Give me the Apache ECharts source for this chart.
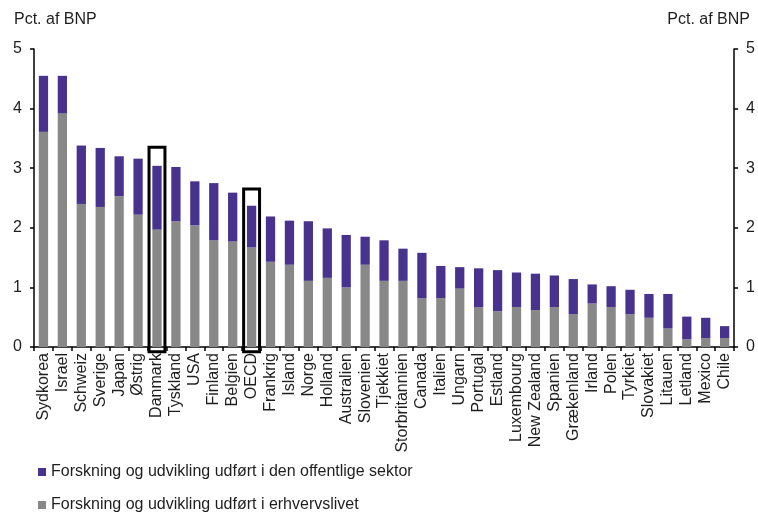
<!DOCTYPE html>
<html>
<head>
<meta charset="utf-8">
<script src="https://cdn.jsdelivr.net/npm/echarts@6/dist/echarts.min.js"></script>
<style>
  html, body { margin: 0; padding: 0; background: #fff; }
  #chart { width: 758px; height: 514px; }
</style>
</head>
<body>
<div id="chart"></div>
<script>
// R&D spending as share of GDP, split by performing sector
const countries = ['Sydkorea', 'Israel', 'Schweiz', 'Sverige', 'Japan', 'Østrig', 'Danmark', 'Tyskland', 'USA', 'Finland', 'Belgien', 'OECD', 'Frankrig', 'Island', 'Norge', 'Holland', 'Australien', 'Slovenien', 'Tjekkiet', 'Storbritannien', 'Canada', 'Italien', 'Ungarn', 'Portugal', 'Estland', 'Luxembourg', 'New Zealand', 'Spanien', 'Grækenland', 'Irland', 'Polen', 'Tyrkiet', 'Slovakiet', 'Litauen', 'Letland', 'Mexico', 'Chile'];
const totalRD = [4.55, 4.55, 3.38, 3.34, 3.20, 3.16, 3.04, 3.02, 2.78, 2.75, 2.59, 2.37, 2.19, 2.12, 2.11, 1.99, 1.88, 1.85, 1.79, 1.65, 1.58, 1.36, 1.34, 1.32, 1.29, 1.25, 1.23, 1.20, 1.14, 1.05, 1.02, 0.96, 0.89, 0.89, 0.51, 0.49, 0.35];
const businessRD = [3.61, 3.92, 2.40, 2.35, 2.53, 2.22, 1.97, 2.11, 2.04, 1.79, 1.77, 1.67, 1.43, 1.38, 1.11, 1.16, 1.00, 1.38, 1.11, 1.11, 0.82, 0.82, 0.98, 0.67, 0.60, 0.67, 0.62, 0.67, 0.55, 0.73, 0.67, 0.55, 0.49, 0.31, 0.13, 0.15, 0.15];
const publicRD = totalRD.map((t, i) => +(t - businessRD[i]).toFixed(2));

const yTicks = [0, 1, 2, 3, 4, 5];
const unitLabel = 'Pct. af BNP';
const seriesNames = ['Forskning og udvikling udført i den offentlige sektor', 'Forskning og udvikling udført i erhvervslivet'];

// Framed countries: frame top and bottom in axis units
const highlightCats = ['Danmark', 'OECD'];
const highlightTop = [3.35, 2.65];
const highlightBottom = [-0.08, -0.08];

const textColor = '#1e1e1e';
const fontFamily = '"Liberation Sans", Arial, sans-serif';

const chart = echarts.init(document.getElementById('chart'), null, { renderer: 'canvas' });

const yAxisBase = {
  type: 'value',
  min: yTicks[0],
  max: yTicks[yTicks.length - 1],
  interval: 1,
  axisLine: { show: true, lineStyle: { color: '#000', width: 1.5 } },
  axisTick: { show: true, length: 4, lineStyle: { color: '#000', width: 1.5 } },
  splitLine: { show: false },
  axisLabel: { color: textColor, fontSize: 16, fontFamily, margin: 12 }
};

// One legend block per row, stacked under the category labels
const legendRow = (name, top) => ({
  data: [name],
  left: 38,
  top: top,
  padding: 0,
  icon: 'rect',
  itemWidth: 8,
  itemHeight: 8,
  itemTextGap: 4,
  selectedMode: false,
  textStyle: { fontSize: 16, color: textColor, fontFamily }
});

chart.setOption({
  animation: false,
  backgroundColor: '#fff',
  textStyle: { fontFamily },
  title: [
    { text: unitLabel, left: 9, top: 7, textStyle: { fontSize: 16, fontWeight: 'normal', color: textColor, fontFamily } },
    { text: unitLabel, right: 3, top: 7, textStyle: { fontSize: 16, fontWeight: 'normal', color: textColor, fontFamily } }
  ],
  grid: { left: 34, right: 22, top: 49, bottom: 167, containLabel: false },
  legend: [legendRow(seriesNames[0], 464), legendRow(seriesNames[1], 497)],
  xAxis: {
    type: 'category',
    data: countries,
    axisLine: { show: true, lineStyle: { color: '#000', width: 1.5 } },
    axisTick: { show: true, length: 4, lineStyle: { color: '#000', width: 1.5 } },
    axisLabel: { rotate: 90, interval: 0, color: textColor, fontSize: 16, fontFamily, margin: 6 }
  },
  yAxis: [
    Object.assign({}, yAxisBase, { position: 'left' }),
    Object.assign({}, yAxisBase, { position: 'right' })
  ],
  series: [
    {
      name: seriesNames[1],
      type: 'bar',
      stack: 'rd',
      data: businessRD,
      barWidth: '49%',
      itemStyle: { color: '#888888' }
    },
    {
      name: seriesNames[0],
      type: 'bar',
      stack: 'rd',
      data: publicRD,
      barWidth: '49%',
      itemStyle: { color: '#47338e' }
    },
    {
      type: 'custom',
      z: 10,
      silent: true,
      encode: { x: 0, y: [1, 2] },
      data: highlightCats.map((c, i) => [c, highlightTop[i], highlightBottom[i]]),
      renderItem: function (params, api) {
        const lw = 3;
        const top = api.coord([api.value(0), api.value(1)]);
        const bottom = api.coord([api.value(0), api.value(2)]);
        const band = api.size([1, 0])[0];
        return {
          type: 'rect',
          shape: { x: top[0] - band / 2 + lw / 2, y: top[1], width: band - lw, height: bottom[1] - top[1] },
          style: { fill: 'none', stroke: '#000', lineWidth: lw }
        };
      }
    }
  ]
});
</script>
</body>
</html>
